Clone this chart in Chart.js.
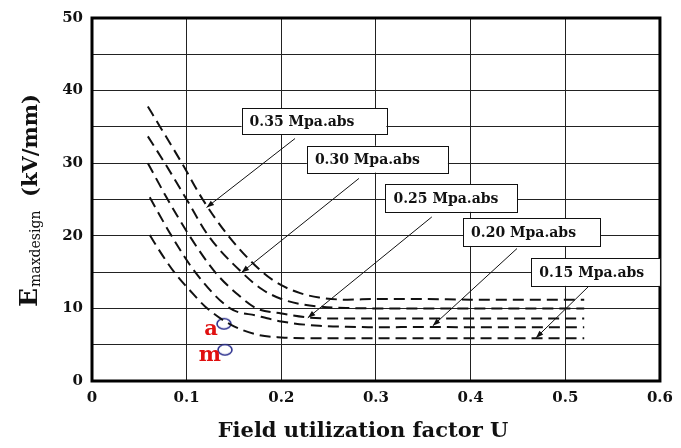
<!DOCTYPE html>
<html>
<head>
<meta charset="utf-8">
<script src="https://cdn.jsdelivr.net/npm/chart.js@4.4.1/dist/chart.umd.min.js"></script>
<style>
  html, body { margin: 0; padding: 0; background: #fff; }
  #wrap { width: 681px; height: 448px; }
</style>
</head>
<body>
<div id="wrap"><canvas id="chart" width="681" height="448"></canvas></div>
<script>
// curves: field utilization factor U -> Emaxdesign (kV/mm)
const seriesNames = ['0.35 Mpa.abs', '0.30 Mpa.abs', '0.25 Mpa.abs', '0.20 Mpa.abs', '0.15 Mpa.abs'];

const u35 = [0.059, 0.072, 0.095, 0.117, 0.144, 0.18, 0.2, 0.22, 0.24, 0.27, 0.3, 0.35, 0.4, 0.45, 0.52];
const e35 = [37.8, 35.0, 30.0, 25.0, 20.0, 15.0, 13.2, 12.1, 11.5, 11.2, 11.3, 11.3, 11.2, 11.2, 11.2];

const u30 = [0.059, 0.077, 0.1, 0.123, 0.158, 0.18, 0.2, 0.22, 0.24, 0.27, 0.3, 0.35, 0.4, 0.45, 0.52];
const e30 = [33.7, 30.0, 25.0, 20.0, 15.0, 12.6, 11.3, 10.6, 10.25, 10.05, 10.0, 10.0, 10.0, 10.0, 10.0];

const u25 = [0.059, 0.08, 0.103, 0.13, 0.155, 0.174, 0.2, 0.228, 0.26, 0.3, 0.35, 0.4, 0.45, 0.52];
const e25 = [30.0, 25.0, 20.0, 15.0, 11.8, 10.0, 9.3, 8.75, 8.6, 8.6, 8.6, 8.6, 8.6, 8.6];

const u20 = [0.061, 0.084, 0.109, 0.146, 0.174, 0.2, 0.24, 0.28, 0.3, 0.35, 0.4, 0.45, 0.52];
const e20 = [25.3, 20.0, 15.0, 10.0, 9.0, 8.2, 7.6, 7.45, 7.4, 7.45, 7.4, 7.4, 7.4];

const u15 = [0.061, 0.075, 0.088, 0.104, 0.12, 0.146, 0.174, 0.2, 0.23, 0.3, 0.35, 0.4, 0.45, 0.52];
const e15 = [20.1, 17.2, 14.8, 12.4, 10.2, 7.8, 6.4, 6.0, 5.9, 5.9, 5.9, 5.9, 5.9, 5.9];

// the two marked designs
const markNames = ['a', 'm'];
const markU = [0.1394, 0.1405];
const markE = [7.88, 4.3];

const xTicks = [0, 0.1, 0.2, 0.3, 0.4, 0.5, 0.6];
const yGrid = [0, 5, 10, 15, 20, 25, 30, 35, 40, 45, 50];
const yTicks = [0, 10, 20, 30, 40, 50];

// callout boxes [uLeft, eTop, uRight, eBottom] and arrows [uFrom, eFrom, uTo, eTo]
const noteBoxes = [
  [0.158, 37.6, 0.311, 34.0],
  [0.227, 32.4, 0.376, 28.7],
  [0.310, 27.1, 0.449, 23.3],
  [0.392, 22.4, 0.537, 18.6],
  [0.464, 16.9, 0.600, 13.1]
];
const noteArrows = [
  [0.2145, 33.4, 0.121, 23.9],
  [0.282, 27.9, 0.158, 14.95],
  [0.359, 22.6, 0.228, 8.7],
  [0.449, 18.25, 0.36, 7.6],
  [0.524, 12.95, 0.469, 5.94]
];

const serif = "'DejaVu Serif', 'Liberation Serif', serif";

function pts(us, es) {
  return us.map((u, i) => ({ x: u, y: es[i] }));
}

// blue open ellipse for the marked points
function ringStyle() {
  const c = document.createElement('canvas');
  c.width = 18; c.height = 14;
  const g = c.getContext('2d');
  g.strokeStyle = '#2f3390';
  g.lineWidth = 1.6;
  g.beginPath();
  g.ellipse(9, 7, 7, 5.2, 0, 0, Math.PI * 2);
  g.stroke();
  return c;
}

const curves = [[u35, e35], [u30, e30], [u25, e25], [u20, e20], [u15, e15]];
const datasets = curves.map((c, i) => ({
  label: seriesNames[i],
  data: pts(c[0], c[1]),
  showLine: true,
  borderColor: '#111',
  borderWidth: 2,
  borderDash: [11, 6],
  pointRadius: 0,
  cubicInterpolationMode: 'monotone'
}));
datasets.push({
  label: 'marks',
  data: pts(markU, markE),
  showLine: false,
  pointStyle: ringStyle(),
  pointRadius: 7
});

const decor = {
  id: 'decor',
  afterDraw(chart) {
    const ctx = chart.ctx;
    const a = chart.chartArea;
    const xs = chart.scales.x, ys = chart.scales.y;
    ctx.save();

    // heavy frame
    ctx.strokeStyle = '#000';
    ctx.lineWidth = 3;
    ctx.strokeRect(a.left, a.top, a.right - a.left, a.bottom - a.top);

    // x title (sits a little left of the plot centre in the original)
    ctx.fillStyle = '#111';
    ctx.textAlign = 'center';
    ctx.textBaseline = 'alphabetic';
    ctx.font = 'bold 21px ' + serif;
    ctx.fillText('Field utilization factor U', 363, 437);

    // y title with subscript
    ctx.translate(37, 307);
    ctx.rotate(-Math.PI / 2);
    ctx.textAlign = 'left';
    ctx.font = 'bold 25px ' + serif;
    ctx.fillText('E', 0, 0);
    const wE = ctx.measureText('E').width;
    ctx.font = '14px ' + serif;
    ctx.fillText('maxdesign', wE + 1, 3);
    ctx.font = 'bold 21px ' + serif;
    ctx.fillText('(kV/mm)', 110, 0);
    ctx.setTransform(1, 0, 0, 1, 0, 0);

    // arrows
    ctx.strokeStyle = '#111';
    ctx.fillStyle = '#111';
    ctx.lineWidth = 1;
    noteArrows.forEach(r => {
      const x1 = xs.getPixelForValue(r[0]), y1 = ys.getPixelForValue(r[1]);
      const x2 = xs.getPixelForValue(r[2]), y2 = ys.getPixelForValue(r[3]);
      ctx.beginPath();
      ctx.moveTo(x1, y1);
      ctx.lineTo(x2, y2);
      ctx.stroke();
      const ang = Math.atan2(y2 - y1, x2 - x1);
      ctx.beginPath();
      ctx.moveTo(x2, y2);
      ctx.lineTo(x2 - 8 * Math.cos(ang - 0.35), y2 - 8 * Math.sin(ang - 0.35));
      ctx.lineTo(x2 - 8 * Math.cos(ang + 0.35), y2 - 8 * Math.sin(ang + 0.35));
      ctx.closePath();
      ctx.fill();
    });

    // callout boxes
    ctx.font = 'bold 14px ' + serif;
    ctx.textBaseline = 'middle';
    noteBoxes.forEach((b, i) => {
      const l = xs.getPixelForValue(b[0]), t = ys.getPixelForValue(b[1]);
      const r = xs.getPixelForValue(b[2]), bt = ys.getPixelForValue(b[3]);
      ctx.fillStyle = '#fff';
      ctx.fillRect(l, t, r - l, bt - t);
      ctx.strokeStyle = '#111';
      ctx.lineWidth = 1;
      ctx.strokeRect(Math.round(l) + 0.5, Math.round(t) + 0.5, Math.round(r - l), Math.round(bt - t));
      ctx.fillStyle = '#111';
      ctx.fillText(seriesNames[i], l + 8, (t + bt) / 2 + 1);
    });

    // red point names
    ctx.fillStyle = '#e01010';
    ctx.textAlign = 'right';
    ctx.textBaseline = 'alphabetic';
    ctx.font = 'bold 21px ' + serif;
    markNames.forEach((n, i) => {
      const px = xs.getPixelForValue(markU[i]), py = ys.getPixelForValue(markE[i]);
      ctx.fillText(n, px - (n === 'm' ? 4 : 6), py + 11);
    });

    ctx.restore();
  }
};

new Chart(document.getElementById('chart'), {
  type: 'scatter',
  data: { datasets: datasets },
  options: {
    responsive: false,
    animation: false,
    layout: { padding: { top: 13, right: 21, left: 0, bottom: 0 } },
    plugins: { legend: { display: false }, tooltip: { enabled: false } },
    scales: {
      x: {
        type: 'linear',
        min: 0,
        max: 0.6,
        afterBuildTicks: s => { s.ticks = xTicks.map(v => ({ value: v })); },
        afterFit: s => { s.height = 67; },
        grid: { color: '#222', lineWidth: 1, drawTicks: false },
        border: { display: false },
        ticks: {
          padding: 8,
          color: '#111',
          font: { family: serif, size: 15, weight: 'bold' },
          callback: v => (v === 0 ? '0' : v.toFixed(1))
        }
      },
      y: {
        type: 'linear',
        min: 0,
        max: 50,
        afterBuildTicks: s => { s.ticks = yGrid.map(v => ({ value: v })); },
        afterFit: s => { s.width = 92; },
        grid: { color: '#222', lineWidth: 1, drawTicks: false },
        border: { display: false },
        ticks: {
          padding: 9,
          color: '#111',
          font: { family: serif, size: 15, weight: 'bold' },
          callback: v => (yTicks.includes(v) ? String(v) : '')
        }
      }
    }
  },
  plugins: [decor]
});
</script>
</body>
</html>
